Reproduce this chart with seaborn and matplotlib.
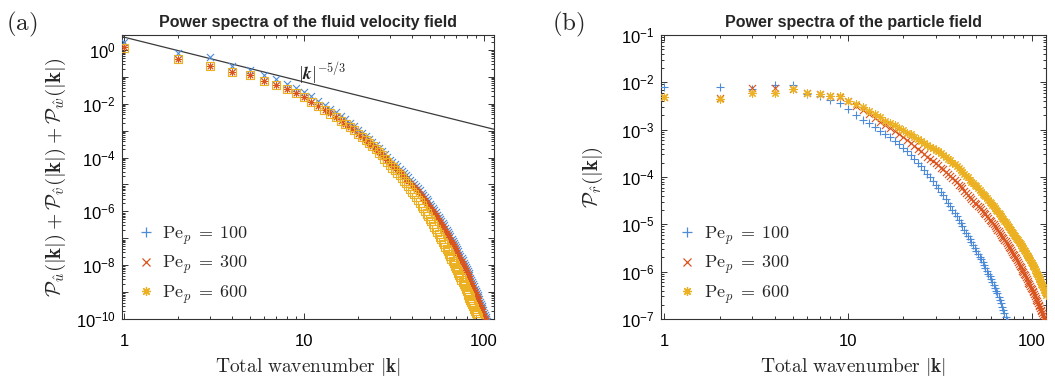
import numpy as np
import pandas as pd
import matplotlib
matplotlib.use("Agg")
import matplotlib.pyplot as plt
import seaborn as sns
from matplotlib.ticker import LogLocator, FuncFormatter, NullFormatter
from matplotlib.lines import Line2D

# ---------------- data (log10 of the power spectra, k = 1, 2, 3, ...) ----------------
SERIES_LABELS = [r"$\mathrm{Pe}_p\;=\;100$", r"$\mathrm{Pe}_p\;=\;300$", r"$\mathrm{Pe}_p\;=\;600$"]

FLUID_PE100 = [0.31, -0.12, -0.27, -0.58, -0.74, -0.93, -1.08, -1.26, -1.42, -1.55,
               -1.72, -1.89, -2.05, -2.18, -2.31, -2.45, -2.57, -2.70, -2.83, -2.96,
               -3.08, -3.20, -3.32, -3.43, -3.55, -3.66, -3.76, -3.87, -3.98, -4.09,
               -4.17, -4.25, -4.33, -4.41, -4.50, -4.58, -4.66, -4.74, -4.82, -4.90,
               -4.98, -5.06, -5.14, -5.22, -5.31, -5.39, -5.47, -5.55, -5.63, -5.71,
               -5.79, -5.87, -5.95, -6.03, -6.12, -6.20, -6.28, -6.36, -6.44, -6.52,
               -6.60, -6.68, -6.76, -6.84, -6.93, -7.01, -7.09, -7.17, -7.25, -7.33,
               -7.41, -7.49, -7.57, -7.65, -7.74, -7.82, -7.90, -7.98, -8.06, -8.14,
               -8.22, -8.30, -8.38, -8.46, -8.55, -8.63, -8.71, -8.79, -8.87, -8.95,
               -9.03, -9.11, -9.19, -9.27, -9.36, -9.44, -9.52, -9.60, -9.68, -9.76,
               -9.84, -9.92, -10.00, -10.08]

FLUID_PE300 = [0.12, -0.35, -0.59, -0.81, -0.93, -1.15, -1.30, -1.46, -1.61, -1.75,
               -1.92, -2.08, -2.24, -2.36, -2.49, -2.63, -2.74, -2.87, -2.99, -3.12,
               -3.24, -3.35, -3.47, -3.57, -3.69, -3.80, -3.89, -4.00, -4.10, -4.21,
               -4.29, -4.37, -4.45, -4.53, -4.62, -4.70, -4.78, -4.86, -4.94, -5.02,
               -5.10, -5.18, -5.26, -5.34, -5.43, -5.51, -5.59, -5.67, -5.75, -5.83,
               -5.91, -5.99, -6.07, -6.15, -6.24, -6.32, -6.40, -6.48, -6.56, -6.64,
               -6.72, -6.80, -6.88, -6.96, -7.05, -7.13, -7.21, -7.29, -7.37, -7.45,
               -7.53, -7.61, -7.69, -7.77, -7.86, -7.94, -8.02, -8.10, -8.18, -8.26,
               -8.34, -8.42, -8.50, -8.58, -8.67, -8.75, -8.83, -8.91, -8.99, -9.07,
               -9.15, -9.23, -9.31, -9.39, -9.48, -9.56, -9.64, -9.72, -9.80, -9.88,
               -9.96, -10.04]

FLUID_PE600 = [0.08, -0.35, -0.59, -0.81, -0.93, -1.15, -1.30, -1.46, -1.61, -1.75,
               -1.92, -2.08, -2.24, -2.36, -2.49, -2.63, -2.74, -2.87, -2.99, -3.12,
               -3.24, -3.35, -3.47, -3.57, -3.69, -3.81, -3.92, -4.04, -4.16, -4.28,
               -4.37, -4.47, -4.56, -4.66, -4.76, -4.86, -4.96, -5.07, -5.17, -5.27,
               -5.37, -5.47, -5.57, -5.67, -5.78, -5.88, -5.98, -6.08, -6.18, -6.28,
               -6.37, -6.46, -6.56, -6.65, -6.75, -6.85, -6.94, -7.03, -7.13, -7.22,
               -7.31, -7.39, -7.48, -7.57, -7.66, -7.75, -7.84, -7.92, -8.01, -8.10,
               -8.19, -8.27, -8.36, -8.44, -8.54, -8.62, -8.71, -8.79, -8.88, -8.96,
               -9.04, -9.12, -9.20, -9.28, -9.37, -9.45, -9.53, -9.61, -9.69, -9.77,
               -9.85, -9.93, -10.01, -10.09]

PART_PE100 = [-2.10, -2.09, -2.14, -2.06, -2.06, -2.25, -2.29, -2.37, -2.44, -2.57,
              -2.68, -2.79, -2.86, -2.94, -3.02, -3.09, -3.16, -3.23, -3.31, -3.38,
              -3.45, -3.54, -3.63, -3.70, -3.77, -3.85, -3.93, -4.01, -4.09, -4.16,
              -4.23, -4.31, -4.39, -4.47, -4.55, -4.62, -4.69, -4.76, -4.83, -4.90,
              -4.97, -5.04, -5.11, -5.18, -5.25, -5.31, -5.38, -5.44, -5.50, -5.56,
              -5.62, -5.68, -5.74, -5.80, -5.86, -5.92, -5.98, -6.04, -6.10, -6.16,
              -6.22, -6.28, -6.34, -6.40, -6.46, -6.53, -6.60, -6.67, -6.74, -6.81,
              -6.88, -6.95, -7.02, -7.09]

PART_PE300 = [-2.30, -2.34, -2.13, -2.13, -2.15, -2.22, -2.25, -2.29, -2.30, -2.40,
              -2.49, -2.58, -2.67, -2.75, -2.83, -2.91, -2.97, -3.03, -3.10, -3.16,
              -3.22, -3.28, -3.34, -3.40, -3.46, -3.51, -3.57, -3.62, -3.66, -3.71,
              -3.75, -3.80, -3.84, -3.89, -3.94, -3.98, -4.03, -4.07, -4.11, -4.16,
              -4.20, -4.24, -4.29, -4.33, -4.37, -4.42, -4.46, -4.50, -4.54, -4.57,
              -4.61, -4.64, -4.68, -4.72, -4.75, -4.79, -4.82, -4.86, -4.90, -4.93,
              -4.97, -5.00, -5.04, -5.08, -5.11, -5.15, -5.18, -5.22, -5.26, -5.29,
              -5.33, -5.36, -5.40, -5.44, -5.47, -5.51, -5.54, -5.58, -5.62, -5.65,
              -5.69, -5.72, -5.76, -5.80, -5.83, -5.87, -5.90, -5.94, -5.98, -6.01,
              -6.05, -6.08, -6.12, -6.16, -6.19, -6.23, -6.26, -6.30, -6.34, -6.37,
              -6.41, -6.44, -6.48, -6.52, -6.55, -6.59, -6.62, -6.66, -6.70, -6.73,
              -6.77, -6.80, -6.84, -6.88, -6.91, -6.95, -6.98, -7.02, -7.06, -7.09]

PART_PE600 = [-2.30, -2.36, -2.23, -2.23, -2.15, -2.22, -2.25, -2.29, -2.29, -2.39,
              -2.46, -2.53, -2.60, -2.67, -2.74, -2.81, -2.86, -2.91, -2.97, -3.01,
              -3.06, -3.10, -3.15, -3.20, -3.24, -3.28, -3.33, -3.37, -3.39, -3.43,
              -3.46, -3.50, -3.54, -3.58, -3.62, -3.65, -3.70, -3.73, -3.77, -3.81,
              -3.85, -3.89, -3.93, -3.97, -4.01, -4.06, -4.10, -4.13, -4.17, -4.20,
              -4.24, -4.27, -4.31, -4.35, -4.38, -4.41, -4.44, -4.48, -4.52, -4.55,
              -4.59, -4.62, -4.65, -4.69, -4.72, -4.76, -4.79, -4.82, -4.86, -4.89,
              -4.93, -4.95, -4.99, -5.03, -5.06, -5.09, -5.12, -5.16, -5.19, -5.22,
              -5.25, -5.28, -5.31, -5.34, -5.37, -5.40, -5.42, -5.45, -5.49, -5.51,
              -5.54, -5.57, -5.60, -5.64, -5.66, -5.69, -5.72, -5.75, -5.79, -5.81,
              -5.85, -5.88, -5.91, -5.95, -5.98, -6.02, -6.05, -6.08, -6.12, -6.15,
              -6.19, -6.22, -6.25, -6.29, -6.32, -6.36, -6.39, -6.42, -6.46, -6.49]

# reference power law |k|^{-5/3}
POWER_LAW_K = [0.9, 130.0]
POWER_LAW_AMP = 3.0
POWER_LAW_EXP = -5.0 / 3.0

X_TICKS = [1, 10, 100]

# ---------------- style ----------------
BLUE = "#4d8bd9"
RED = "#d9541e"
YELLOW = "#ebb123"
INK = "#222222"

sns.set_theme(style="ticks")
plt.rcParams["font.family"] = ["Liberation Sans", "DejaVu Sans"]
plt.rcParams["mathtext.fontset"] = "cm"
plt.rcParams["axes.edgecolor"] = "#333333"
plt.rcParams["axes.linewidth"] = 0.8

fig = plt.figure(figsize=(10.55, 3.79), dpi=100)
W, H = 1055.0, 379.0
axL = fig.add_axes([122 / W, 1 - 319 / H, 372 / W, 284 / H])
axR = fig.add_axes([661 / W, 1 - 319 / H, 385 / W, 284 / H])


def draw(ax, logp, color, marker, size, lw, hollow=False):
    k = np.arange(1, len(logp) + 1)
    df = pd.DataFrame({"k": k, "P": np.power(10.0, np.asarray(logp))})
    kws = dict(marker=marker, s=size, linewidth=lw, color=color,
               legend=False, ax=ax, zorder=3, clip_on=True)
    if hollow:
        kws.update(facecolor="none", edgecolor=color)
    sns.scatterplot(data=df, x="k", y="P", **kws)


ASTER = (8, 2, 0)

for ax in (axL, axR):
    ax.set_xscale("log")
    ax.set_yscale("log")

# (a) fluid
draw(axL, FLUID_PE100, BLUE, "x", 26, 0.8)
draw(axL, FLUID_PE300, RED, ASTER, 24, 0.7)
draw(axL, FLUID_PE600, YELLOW, "s", 34, 0.8, hollow=True)
pl_k = np.asarray(POWER_LAW_K)
sns.lineplot(x=pl_k, y=POWER_LAW_AMP * pl_k ** POWER_LAW_EXP, ax=axL,
             color="#3a3a3a", linewidth=0.9, zorder=2)
axL.text(0.472, 0.865, r"$|\boldsymbol{k}|^{-5/3}$", transform=axL.transAxes,
         fontsize=12.5, ha="left", va="center", color=INK)

# (b) particles
draw(axR, PART_PE100, BLUE, "+", 30, 0.8)
draw(axR, PART_PE300, RED, "x", 26, 0.8)
draw(axR, PART_PE600, YELLOW, ASTER, 30, 0.8)

axL.set_xlim(0.975, 113.6)
axL.set_ylim(1e-10, 3.6)
axR.set_xlim(0.96, 119.6)
axR.set_ylim(1e-7, 1e-1)


def fmt_y_even(v, pos):
    e = int(round(np.log10(v)))
    return r"$\mathregular{10^{%d}}$" % e if e % 2 == 0 else ""


def fmt_y_all(v, pos):
    e = int(round(np.log10(v)))
    return r"$\mathregular{10^{%d}}$" % e


for ax, yfmt in ((axL, fmt_y_even), (axR, fmt_y_all)):
    ax.xaxis.set_major_locator(plt.FixedLocator(X_TICKS))
    ax.xaxis.set_major_formatter(FuncFormatter(lambda v, p: "%g" % v))
    ax.xaxis.set_minor_locator(LogLocator(base=10, subs=np.arange(2, 10), numticks=100))
    ax.xaxis.set_minor_formatter(NullFormatter())
    ax.yaxis.set_major_locator(LogLocator(base=10, numticks=100))
    ax.yaxis.set_major_formatter(FuncFormatter(yfmt))
    ax.yaxis.set_minor_locator(LogLocator(base=10, subs=np.arange(2, 10), numticks=100))
    ax.yaxis.set_minor_formatter(NullFormatter())
    ax.tick_params(which="both", direction="in", top=True, right=True, colors="#333333",
                   labelcolor="black", width=0.7)
    ax.tick_params(which="major", length=4.5)
    ax.tick_params(which="minor", length=2.5)
    ax.tick_params(axis="x", which="major", labelsize=12, pad=11)
    ax.tick_params(axis="y", which="major", labelsize=12, pad=4.5)
    ax.set_xlabel(r"$\mathrm{Total\ wavenumber}\ |\mathbf{k}|$", fontsize=14)
    ax.xaxis.set_label_coords(0.5, -0.13)
    for sp in ax.spines.values():
        sp.set_visible(True)

axL.set_ylabel(r"$\mathcal{P}_{\hat{u}}(|\mathbf{k}|) + \mathcal{P}_{\hat{v}}(|\mathbf{k}|)"
               r" + \mathcal{P}_{\hat{w}}(|\mathbf{k}|)$", fontsize=15)
axL.yaxis.set_label_coords(-0.145, 0.5)
axR.set_ylabel(r"$\mathcal{P}_{\hat{r}}(|\mathbf{k}|)$", fontsize=15)
axR.yaxis.set_label_coords(-0.145, 0.5)

axL.set_title("Power spectra of the fluid velocity field", fontsize=11.5,
              fontweight="bold", pad=6)
axR.set_title("Power spectra of the particle field", fontsize=11.5,
              fontweight="bold", pad=6)

fig.text(22 / W, 1 - 24 / H, r"$\mathrm{(a)}$", fontsize=18, ha="center", va="center")
fig.text(568 / W, 1 - 24 / H, r"$\mathrm{(b)}$", fontsize=18, ha="center", va="center")


def legend(ax, markers, x0):
    handles = [Line2D([], [], linestyle="none", marker=m, color=c, markersize=ms,
                      markeredgewidth=0.9, markerfacecolor=c)
               for m, c, ms in markers]
    ax.legend(handles, SERIES_LABELS, loc="center left", bbox_to_anchor=(x0, 0.19),
              frameon=False, fontsize=13, handlelength=0.8, handletextpad=0.5,
              labelspacing=0.4, borderpad=0, borderaxespad=0)


legend(axL, [("+", BLUE, 6.5), ("x", RED, 6), (ASTER, YELLOW, 6.5)], 0.045)
legend(axR, [("+", BLUE, 6.5), ("x", RED, 6), (ASTER, YELLOW, 6.5)], 0.05)

fig.savefig("out.png", dpi=100)
